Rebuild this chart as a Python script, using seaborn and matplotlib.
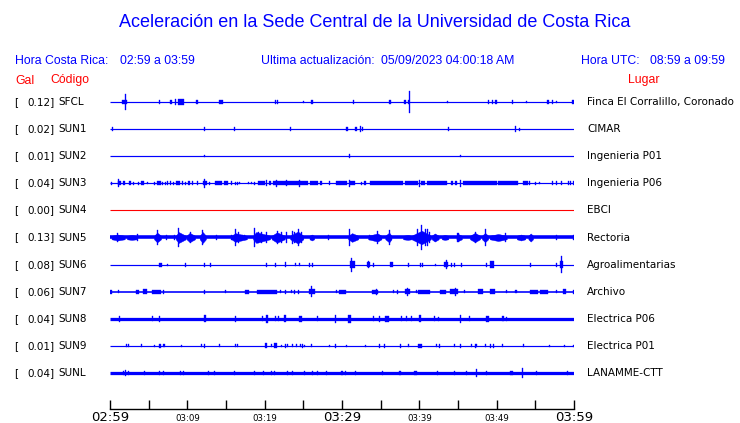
import numpy as np
import pandas as pd
import matplotlib
matplotlib.use("Agg")
import matplotlib.pyplot as plt
import matplotlib.transforms as mtransforms
import seaborn as sns

# Estaciones (de arriba hacia abajo)
codigos = ["SFCL", "SUN1", "SUN2", "SUN3", "SUN4", "SUN5", "SUN6", "SUN7", "SUN8", "SUN9", "SUNL"]
gal_max = [0.12, 0.02, 0.01, 0.04, 0.00, 0.13, 0.08, 0.06, 0.04, 0.01, 0.04]
lugares = ["Finca El Corralillo, Coronado", "CIMAR", "Ingenieria P01", "Ingenieria P06", "EBCI",
           "Rectoria", "Agroalimentarias", "Archivo", "Electrica P06", "Electrica P01", "LANAMME-CTT"]
# medio espesor del ruido de fondo (fraccion de la separacion entre trazas)
ruido_base = [0.022, 0.022, 0.022, 0.022, 0.018, 0.066, 0.022, 0.03, 0.06, 0.022, 0.06]

# eventos: (minuto desde 02:59, semi-amplitud, duracion en minutos)
ev_sfcl = [(1.88, 0.075, 0.65), (1.98, 0.30, 0.13), (6.38, 0.075, 0.13), (7.85, 0.075, 0.3), (8.53, 0.11, 0.13),
           (9.18, 0.10, 0.8), (11.25, 0.09, 0.3), (14.35, 0.09, 0.5), (21.34, 0.075, 0.13), (21.6, 0.075, 0.13),
           (24.96, 0.04, 0.13), (26.12, 0.075, 0.26), (31.55, 0.075, 0.13), (36.2, 0.075, 0.26), (38.15, 0.075, 0.2),
           (38.54, 0.075, 0.13), (38.7, 0.40, 0.13), (43.7, 0.055, 0.13), (48.9, 0.075, 0.13), (49.4, 0.075, 0.13),
           (49.9, 0.09, 0.26), (52.1, 0.075, 0.13), (53.9, 0.04, 0.13), (56.6, 0.09, 0.26), (57.2, 0.075, 0.13),
           (57.8, 0.04, 0.13), (59.9, 0.075, 0.2)]
ev_sun1 = [(0.3, 0.075, 0.13), (12.2, 0.075, 0.13), (16.1, 0.075, 0.13), (23.3, 0.075, 0.13), (30.7, 0.075, 0.26),
           (31.8, 0.075, 0.2), (32.4, 0.11, 0.13), (32.6, 0.075, 0.13), (43.75, 0.075, 0.13), (52.4, 0.11, 0.13),
           (52.9, 0.055, 0.13)]
ev_sun2 = [(12.2, 0.04, 0.13), (30.95, 0.075, 0.13), (45.3, 0.04, 0.13)]
ev_sun3 = [(0.13, 0.055, 0.13), (1.08, 0.15, 0.13), (1.25, 0.075, 0.4), (1.81, 0.075, 0.2), (2.59, 0.075, 0.2),
           (3.02, 0.055, 0.13), (3.66, 0.055, 0.13), (4.18, 0.075, 0.4), (4.87, 0.04, 0.13), (5.73, 0.055, 0.13),
           (6.29, 0.08, 0.55), (6.81, 0.055, 0.13), (7.2, 0.055, 0.13), (7.46, 0.075, 0.13), (7.85, 0.075, 0.2),
           (8.19, 0.055, 0.13), (8.75, 0.07, 0.55), (9.35, 0.075, 0.2), (9.7, 0.055, 0.13), (10.2, 0.07, 0.35),
           (10.65, 0.075, 0.13), (11.34, 0.075, 0.2), (12.28, 0.08, 0.45), (12.2, 0.16, 0.13), (12.93, 0.055, 0.13),
           (14.0, 0.07, 0.85), (15.0, 0.07, 0.45), (15.73, 0.075, 0.13), (16.25, 0.055, 0.13), (16.51, 0.055, 0.13),
           (16.8, 0.04, 0.13), (17.9, 0.04, 0.13), (18.3, 0.04, 0.13), (18.66, 0.055, 0.13), (19.6, 0.07, 0.85),
           (20.3, 0.11, 0.13), (20.7, 0.075, 0.2), (23.37, 0.08, 4.5), (21.5, 0.13, 0.13), (22.8, 0.11, 0.13),
           (24.5, 0.13, 0.13), (26.4, 0.07, 1.1), (27.3, 0.075, 0.2), (28.4, 0.075, 0.2), (29.5, 0.07, 0.45),
           (30.2, 0.07, 0.9), (30.95, 0.13, 0.13), (31.4, 0.07, 0.65), (32.5, 0.055, 0.13), (33.0, 0.075, 0.2),
           (35.78, 0.08, 4.3), (39.0, 0.07, 1.7), (40.0, 0.14, 0.2), (40.5, 0.07, 0.45), (42.25, 0.08, 2.6),
           (44.2, 0.075, 0.2), (44.74, 0.075, 0.2), (45.35, 0.13, 0.2), (47.85, 0.07, 4.3), (51.5, 0.07, 2.6),
           (53.7, 0.07, 0.65), (54.3, 0.075, 0.13), (55.0, 0.055, 0.13), (55.6, 0.04, 0.13), (57.2, 0.075, 0.13),
           (57.8, 0.075, 0.13), (58.4, 0.075, 0.13), (59.3, 0.075, 0.13), (59.6, 0.075, 0.13), (59.9, 0.075, 0.13)]
ev_sun4 = []
ev_sun5 = [(1.0, 0.15, 0.13), (3.58, 0.13, 0.13), (6.12, 0.26, 0.13), (7.33, 0.11, 0.13), (8.4, 0.09, 0.13),
           (8.92, 0.34, 0.13), (10.35, 0.22, 0.13), (12.0, 0.28, 0.13), (13.8, 0.09, 0.13), (15.65, 0.11, 0.13),
           (16.2, 0.31, 0.13), (16.6, 0.2, 0.13), (17.1, 0.11, 0.13), (17.45, 0.11, 0.13), (18.67, 0.36, 0.13),
           (19.2, 0.22, 0.13), (19.6, 0.2, 0.13), (20.3, 0.19, 0.13), (21.6, 0.25, 0.13), (22.2, 0.22, 0.13),
           (22.85, 0.2, 0.13), (23.6, 0.24, 0.13), (23.9, 0.22, 0.13), (24.35, 0.3, 0.13), (24.7, 0.2, 0.13),
           (28.2, 0.1, 0.13), (31.0, 0.3, 0.13), (33.6, 0.075, 0.13), (34.6, 0.25, 0.13), (36.2, 0.26, 0.13),
           (39.8, 0.3, 0.13), (40.3, 0.45, 0.13), (40.8, 0.33, 0.13), (41.0, 0.3, 0.13), (41.3, 0.22, 0.13),
           (45.0, 0.18, 0.13), (47.2, 0.22, 0.13), (48.5, 0.3, 0.13), (51.1, 0.18, 0.13), (57.8, 0.09, 0.13),
           (59.9, 0.11, 0.13)]
ev_sun6 = [(6.5, 0.075, 0.35), (7.4, 0.04, 0.13), (9.74, 0.075, 0.13), (12.2, 0.075, 0.13), (12.97, 0.075, 0.13),
           (20.2, 0.075, 0.13), (21.4, 0.075, 0.13), (22.7, 0.09, 0.13), (23.96, 0.055, 0.13), (24.5, 0.055, 0.13),
           (25.8, 0.075, 0.13), (26.2, 0.075, 0.13), (31.35, 0.12, 0.65), (31.25, 0.26, 0.13), (33.4, 0.09, 0.45),
           (33.4, 0.14, 0.13), (34.05, 0.075, 0.13), (36.4, 0.09, 0.45), (38.6, 0.075, 0.2), (40.1, 0.075, 0.13),
           (40.4, 0.075, 0.13), (42.1, 0.04, 0.13), (43.45, 0.1, 0.4), (43.45, 0.17, 0.13), (44.1, 0.075, 0.13),
           (44.6, 0.075, 0.13), (45.4, 0.075, 0.13), (48.7, 0.075, 0.13), (49.4, 0.13, 0.55), (54.4, 0.075, 0.13),
           (57.7, 0.075, 0.13), (58.4, 0.12, 0.4), (58.4, 0.3, 0.13)]
ev_sun7 = [(0.1, 0.075, 0.25), (1.08, 0.055, 0.13), (3.53, 0.075, 0.35), (4.5, 0.1, 0.55), (6.0, 0.08, 1.1),
           (6.9, 0.075, 0.13), (12.2, 0.075, 0.13), (14.9, 0.055, 0.13), (17.7, 0.08, 0.5), (20.3, 0.08, 2.6),
           (22.0, 0.055, 0.13), (22.75, 0.075, 0.13), (23.5, 0.055, 0.13), (23.8, 0.075, 0.13), (24.35, 0.075, 0.13),
           (26.1, 0.1, 0.7), (26.1, 0.2, 0.13), (29.3, 0.055, 0.13), (30.1, 0.07, 0.95), (34.3, 0.08, 0.75),
           (34.4, 0.11, 0.13), (36.6, 0.055, 0.13), (37.15, 0.075, 0.13), (38.5, 0.1, 0.7), (38.5, 0.15, 0.13),
           (39.6, 0.055, 0.13), (40.6, 0.08, 1.5), (43.1, 0.07, 0.75), (44.5, 0.09, 1.1), (44.7, 0.15, 0.13),
           (45.8, 0.055, 0.13), (47.9, 0.09, 0.55), (49.5, 0.09, 0.65), (51.3, 0.055, 0.13), (52.5, 0.055, 0.13),
           (54.85, 0.08, 1.1), (56.1, 0.08, 0.95), (57.7, 0.055, 0.13), (58.8, 0.1, 0.45), (59.9, 0.075, 0.13)]
ev_sun8 = [(1.2, 0.11, 0.13), (5.47, 0.09, 0.13), (6.34, 0.11, 0.13), (12.3, 0.13, 0.3), (16.2, 0.11, 0.13),
           (19.7, 0.09, 0.13), (20.3, 0.15, 0.3), (21.4, 0.09, 0.13), (21.85, 0.09, 0.13), (22.6, 0.13, 0.3),
           (24.65, 0.12, 0.35), (26.8, 0.09, 0.13), (29.1, 0.14, 0.13), (30.95, 0.15, 0.3), (34.05, 0.09, 0.13),
           (34.8, 0.11, 0.13), (35.8, 0.11, 0.6), (37.7, 0.09, 0.13), (38.4, 0.09, 0.13), (39.0, 0.09, 0.13),
           (40.05, 0.13, 0.3), (42.0, 0.09, 0.13), (42.5, 0.075, 0.13), (45.35, 0.15, 0.13), (46.55, 0.09, 0.13),
           (48.8, 0.11, 0.3), (50.85, 0.09, 0.3), (51.3, 0.075, 0.13)]
ev_sun9 = [(2.15, 0.055, 0.13), (2.37, 0.055, 0.13), (4.1, 0.055, 0.13), (5.73, 0.04, 0.13), (6.47, 0.075, 0.2),
           (7.0, 0.055, 0.2), (9.27, 0.04, 0.13), (11.86, 0.055, 0.13), (12.16, 0.075, 0.13), (14.14, 0.055, 0.13),
           (16.25, 0.055, 0.13), (16.5, 0.055, 0.13), (20.2, 0.09, 0.3), (20.9, 0.055, 0.13), (21.4, 0.09, 0.3),
           (22.2, 0.04, 0.13), (22.7, 0.075, 0.13), (23.0, 0.055, 0.13), (23.6, 0.055, 0.13), (24.1, 0.055, 0.13),
           (24.6, 0.055, 0.13), (24.9, 0.075, 0.13), (25.2, 0.04, 0.13), (26.1, 0.055, 0.13), (28.35, 0.04, 0.13),
           (29.1, 0.075, 0.13), (30.6, 0.04, 0.13), (33.0, 0.04, 0.13), (34.8, 0.075, 0.13), (35.55, 0.075, 0.13),
           (37.6, 0.075, 0.13), (38.6, 0.055, 0.13), (40.1, 0.075, 0.5), (42.25, 0.055, 0.13), (42.55, 0.075, 0.13),
           (44.5, 0.055, 0.13), (45.35, 0.075, 0.13), (46.7, 0.055, 0.13), (47.2, 0.075, 0.13), (47.4, 0.055, 0.13),
           (48.6, 0.055, 0.13), (49.15, 0.075, 0.13), (49.6, 0.075, 0.13), (50.75, 0.055, 0.13), (53.45, 0.055, 0.13),
           (56.8, 0.04, 0.13), (58.75, 0.04, 0.13), (59.9, 0.04, 0.13)]
ev_sunl = [(1.72, 0.075, 0.13), (2.03, 0.11, 0.13), (2.37, 0.09, 0.13), (4.44, 0.075, 0.13), (6.38, 0.075, 0.13),
           (6.94, 0.09, 0.13), (9.14, 0.09, 0.13), (9.48, 0.09, 0.13), (12.76, 0.075, 0.13), (13.5, 0.075, 0.13),
           (16.16, 0.075, 0.13), (18.66, 0.075, 0.13), (19.8, 0.075, 0.13), (20.9, 0.075, 0.13), (21.25, 0.075, 0.13),
           (23.0, 0.075, 0.13), (23.6, 0.075, 0.13), (25.2, 0.075, 0.13), (26.2, 0.075, 0.13), (26.8, 0.09, 0.13),
           (28.0, 0.075, 0.13), (30.0, 0.075, 0.13), (30.5, 0.075, 0.13), (31.8, 0.075, 0.13), (35.3, 0.075, 0.13),
           (37.5, 0.075, 0.13), (39.5, 0.09, 0.45), (42.3, 0.075, 0.13), (44.5, 0.075, 0.13), (46.1, 0.075, 0.13),
           (47.4, 0.15, 0.13), (48.7, 0.075, 0.13), (51.9, 0.09, 0.35), (53.35, 0.19, 0.13), (55.2, 0.075, 0.13),
           (59.2, 0.075, 0.13)]

# rafagas de SUN5: (minuto inicio, minuto pico, minuto fin, semi-amplitud en el pico)
rafagas_sun5 = [(0.2, 1.0, 1.9, 0.11), (2.2, 2.8, 3.45, 0.09), (5.7, 6.1, 6.6, 0.18), (8.5, 8.9, 9.8, 0.2),
                (9.9, 10.3, 11.0, 0.17), (11.6, 12.0, 12.4, 0.2), (15.7, 16.2, 17.7, 0.16),
                (18.5, 18.9, 20.7, 0.2), (20.9, 21.6, 22.6, 0.19), (23.3, 24.3, 25.0, 0.22),
                (25.8, 26.1, 26.4, 0.11), (30.8, 31.3, 32.1, 0.16), (33.4, 34.6, 35.1, 0.15),
                (35.6, 36.1, 36.4, 0.18), (37.9, 38.5, 39.0, 0.09), (39.0, 40.3, 41.5, 0.25),
                (41.6, 42.0, 42.5, 0.15), (42.9, 43.3, 43.75, 0.09), (44.8, 45.0, 45.5, 0.13),
                (46.55, 47.2, 47.85, 0.17), (48.1, 48.5, 48.9, 0.17), (49.1, 50.2, 51.3, 0.13),
                (52.6, 53.15, 53.7, 0.11), (54.1, 54.4, 54.7, 0.15)]

eventos = [ev_sfcl, ev_sun1, ev_sun2, ev_sun3, ev_sun4, ev_sun5, ev_sun6, ev_sun7, ev_sun8, ev_sun9, ev_sunl]
rafagas = {"SUN5": rafagas_sun5}

ticks_min = list(range(0, 61, 5))
tick_labels = {0: "02:59", 10: "03:09", 20: "03:19", 30: "03:29", 40: "03:39", 50: "03:49", 60: "03:59"}
grandes = [0, 30, 60]

AZUL = "#0000ff"
ROJO = "#ff0000"

sns.set_theme(style="white")
plt.rcParams["font.family"] = ["DejaVu Sans"]

W, H = 740, 423
fig = plt.figure(figsize=(W / 100, H / 100), dpi=100)
fig.patch.set_facecolor("white")

# ejes de trazas: x 110..574 px, y 88..409 px
y_top, y_bot = 88, 409
ax = fig.add_axes([110 / W, (H - y_bot) / H, 464 / W, (y_bot - y_top) / H])
ax.set_facecolor("white")
row_px = 27.1
ax.set_xlim(0, 60)
ax.set_ylim((y_bot - 102) / row_px, (y_top - 102) / row_px)

for i, cod in enumerate(codigos):
    color = ROJO if cod == "SUN4" else AZUL
    b = ruido_base[i]
    base = pd.DataFrame({"minuto": [0, 60], "fila": [i, i]})
    sns.lineplot(data=base, x="minuto", y="fila", ax=ax, color=color,
                 linewidth=max(2 * b * row_px * 0.72, 0.8), solid_capstyle="butt")
    for t0, tp, t1, a in rafagas.get(cod, []):
        ax.fill_between([t0, tp, t1], [i - b, i - a, i - b], [i + b, i + a, i + b],
                        color=color, linewidth=0.3)
    if eventos[i]:
        ev = pd.DataFrame(eventos[i], columns=["t", "a", "w"])
        ax.bar(ev["t"], 2 * ev["a"], width=ev["w"], bottom=i - ev["a"],
               color=color, edgecolor=color, linewidth=0.25)

ax.set_xlabel("")
ax.set_ylabel("")
ax.set_yticks([])
ax.set_xticks(ticks_min)
ax.set_xticklabels([])
ax.tick_params(axis="x", direction="in", length=6.5, width=1, color="black", bottom=True)
for s in ["top", "left", "right"]:
    ax.spines[s].set_visible(False)
ax.spines["bottom"].set_color("black")
ax.spines["bottom"].set_linewidth(1)

# etiquetas de tiempo
xt = mtransforms.blended_transform_factory(ax.transData, fig.transFigure)
for m, lab in tick_labels.items():
    ax.text(m, 1 - 420.5 / H, lab, transform=xt, ha="center", va="baseline",
            fontsize=9.5 if m in grandes else 6.2, color="black", clip_on=False)

# etiquetas por estacion
yt = mtransforms.blended_transform_factory(fig.transFigure, ax.transData)
for i, cod in enumerate(codigos):
    ax.text(14 / W, i, "[", transform=yt, ha="left", va="center", fontsize=7.5, color="black")
    ax.text(54.5 / W, i, f"{gal_max[i]:.2f}]", transform=yt, ha="right", va="center", fontsize=7.5, color="black")
    ax.text(58 / W, i, cod, transform=yt, ha="left", va="center", fontsize=7.5, color="black")
    ax.text(587 / W, i, lugares[i], transform=yt, ha="left", va="center", fontsize=7.5, color="black")

# encabezados
hf = ["Liberation Sans", "DejaVu Sans"]
fig.text(375 / W, 1 - 27 / H, "Aceleración en la Sede Central de la Universidad de Costa Rica",
         ha="center", va="baseline", fontsize=13, color=AZUL, family=hf)
fila_h = 1 - 64 / H
fig.text(15 / W, fila_h, "Hora Costa Rica:", ha="left", va="baseline", fontsize=8.8, color=AZUL, family=hf)
fig.text(120 / W, fila_h, "02:59 a 03:59", ha="left", va="baseline", fontsize=8.8, color=AZUL, family=hf)
fig.text(261 / W, fila_h, "Ultima actualización:", ha="left", va="baseline", fontsize=8.8, color=AZUL, family=hf)
fig.text(381 / W, fila_h, "05/09/2023 04:00:18 AM", ha="left", va="baseline", fontsize=8.8, color=AZUL, family=hf)
fig.text(581 / W, fila_h, "Hora UTC:", ha="left", va="baseline", fontsize=8.8, color=AZUL, family=hf)
fig.text(650 / W, fila_h, "08:59 a 09:59", ha="left", va="baseline", fontsize=8.8, color=AZUL, family=hf)
fila_g = 1 - 83.5 / H
fig.text(15 / W, fila_g, "Gal", ha="left", va="baseline", fontsize=8.8, color=ROJO, family=hf)
fig.text(50 / W, fila_g, "Código", ha="left", va="baseline", fontsize=8.8, color=ROJO, family=hf)
fig.text(628 / W, fila_g, "Lugar", ha="left", va="baseline", fontsize=8.8, color=ROJO, family=hf)

fig.savefig("out.png", dpi=100, facecolor="white")
plt.close(fig)
